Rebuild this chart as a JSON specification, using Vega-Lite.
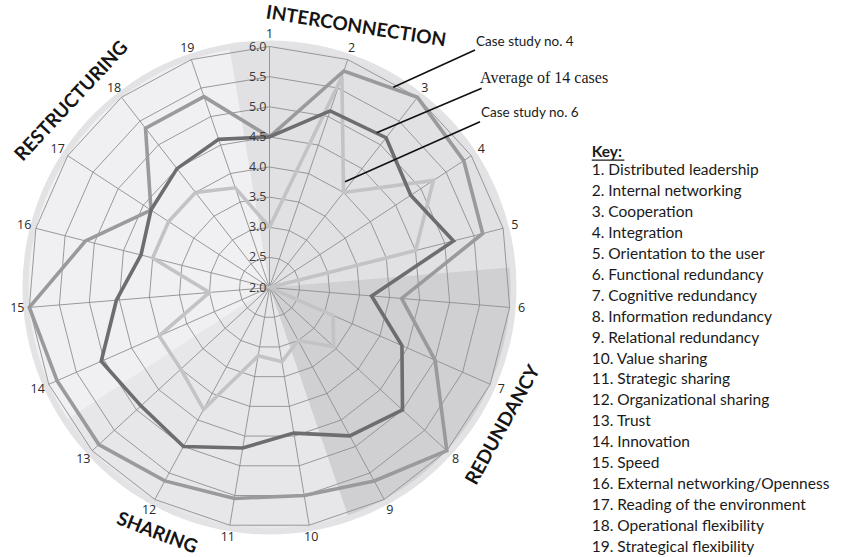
{
  "$schema": "https://vega.github.io/schema/vega-lite/v6.json",
  "width": 841,
  "height": 557,
  "autosize": {"type": "none"},
  "padding": 0,
  "background": "white",
  "config": {"view": {"stroke": null}, "font": "Lato"},
  "datasets": {
    "series": [
      {"series": "Case study no. 6", "k": 1, "v": 3.0},
      {"series": "Case study no. 6", "k": 2, "v": 5.7},
      {"series": "Case study no. 6", "k": 3, "v": 4.0},
      {"series": "Case study no. 6", "k": 4, "v": 5.25},
      {"series": "Case study no. 6", "k": 5, "v": 4.5},
      {"series": "Case study no. 6", "k": 6, "v": 2.0},
      {"series": "Case study no. 6", "k": 7, "v": 3.15},
      {"series": "Case study no. 6", "k": 8, "v": 3.45},
      {"series": "Case study no. 6", "k": 9, "v": 3.0},
      {"series": "Case study no. 6", "k": 10, "v": 3.25},
      {"series": "Case study no. 6", "k": 11, "v": 3.15},
      {"series": "Case study no. 6", "k": 12, "v": 4.3},
      {"series": "Case study no. 6", "k": 13, "v": 4.0},
      {"series": "Case study no. 6", "k": 14, "v": 4.0},
      {"series": "Case study no. 6", "k": 15, "v": 3.0},
      {"series": "Case study no. 6", "k": 16, "v": 4.0},
      {"series": "Case study no. 6", "k": 17, "v": 4.0},
      {"series": "Case study no. 6", "k": 18, "v": 4.0},
      {"series": "Case study no. 6", "k": 19, "v": 3.75},
      {"series": "Case study no. 4", "k": 1, "v": 4.5},
      {"series": "Case study no. 4", "k": 2, "v": 5.8},
      {"series": "Case study no. 4", "k": 3, "v": 6.0},
      {"series": "Case study no. 4", "k": 4, "v": 5.85},
      {"series": "Case study no. 4", "k": 5, "v": 5.65},
      {"series": "Case study no. 4", "k": 6, "v": 4.2},
      {"series": "Case study no. 4", "k": 7, "v": 5.0},
      {"series": "Case study no. 4", "k": 8, "v": 6.0},
      {"series": "Case study no. 4", "k": 9, "v": 5.65},
      {"series": "Case study no. 4", "k": 10, "v": 5.5},
      {"series": "Case study no. 4", "k": 11, "v": 5.55},
      {"series": "Case study no. 4", "k": 12, "v": 5.65},
      {"series": "Case study no. 4", "k": 13, "v": 5.85},
      {"series": "Case study no. 4", "k": 14, "v": 5.85},
      {"series": "Case study no. 4", "k": 15, "v": 6.0},
      {"series": "Case study no. 4", "k": 16, "v": 5.15},
      {"series": "Case study no. 4", "k": 17, "v": 4.35},
      {"series": "Case study no. 4", "k": 18, "v": 5.35},
      {"series": "Case study no. 4", "k": 19, "v": 5.35},
      {"series": "Average of 14 cases", "k": 1, "v": 4.5},
      {"series": "Average of 14 cases", "k": 2, "v": 5.1},
      {"series": "Average of 14 cases", "k": 3, "v": 5.15},
      {"series": "Average of 14 cases", "k": 4, "v": 4.8},
      {"series": "Average of 14 cases", "k": 5, "v": 5.15},
      {"series": "Average of 14 cases", "k": 6, "v": 3.7},
      {"series": "Average of 14 cases", "k": 7, "v": 4.4},
      {"series": "Average of 14 cases", "k": 8, "v": 5.0},
      {"series": "Average of 14 cases", "k": 9, "v": 4.8},
      {"series": "Average of 14 cases", "k": 10, "v": 4.45},
      {"series": "Average of 14 cases", "k": 11, "v": 4.7},
      {"series": "Average of 14 cases", "k": 12, "v": 5.0},
      {"series": "Average of 14 cases", "k": 13, "v": 4.9},
      {"series": "Average of 14 cases", "k": 14, "v": 5.05},
      {"series": "Average of 14 cases", "k": 15, "v": 4.55},
      {"series": "Average of 14 cases", "k": 16, "v": 4.2},
      {"series": "Average of 14 cases", "k": 17, "v": 4.35},
      {"series": "Average of 14 cases", "k": 18, "v": 4.5},
      {"series": "Average of 14 cases", "k": 19, "v": 4.6}
    ],
    "axes": [
      {"k": 1, "label": "1. Distributed leadership"},
      {"k": 2, "label": "2. Internal networking"},
      {"k": 3, "label": "3. Cooperation"},
      {"k": 4, "label": "4. Integration"},
      {"k": 5, "label": "5. Orientation to the user"},
      {"k": 6, "label": "6. Functional redundancy"},
      {"k": 7, "label": "7. Cognitive redundancy"},
      {"k": 8, "label": "8. Information redundancy"},
      {"k": 9, "label": "9. Relational redundancy"},
      {"k": 10, "label": "10. Value sharing"},
      {"k": 11, "label": "11. Strategic sharing"},
      {"k": 12, "label": "12. Organizational sharing"},
      {"k": 13, "label": "13. Trust"},
      {"k": 14, "label": "14. Innovation"},
      {"k": 15, "label": "15. Speed"},
      {"k": 16, "label": "16. External networking/Openness"},
      {"k": 17, "label": "17. Reading of the environment"},
      {"k": 18, "label": "18. Operational flexibility"},
      {"k": 19, "label": "19. Strategical flexibility"}
    ],
    "levels": [
      {"level": 2.0, "ks": [1,2,3,4,5,6,7,8,9,10,11,12,13,14,15,16,17,18,19]},
      {"level": 2.5, "ks": [1,2,3,4,5,6,7,8,9,10,11,12,13,14,15,16,17,18,19]},
      {"level": 3.0, "ks": [1,2,3,4,5,6,7,8,9,10,11,12,13,14,15,16,17,18,19]},
      {"level": 3.5, "ks": [1,2,3,4,5,6,7,8,9,10,11,12,13,14,15,16,17,18,19]},
      {"level": 4.0, "ks": [1,2,3,4,5,6,7,8,9,10,11,12,13,14,15,16,17,18,19]},
      {"level": 4.5, "ks": [1,2,3,4,5,6,7,8,9,10,11,12,13,14,15,16,17,18,19]},
      {"level": 5.0, "ks": [1,2,3,4,5,6,7,8,9,10,11,12,13,14,15,16,17,18,19]},
      {"level": 5.5, "ks": [1,2,3,4,5,6,7,8,9,10,11,12,13,14,15,16,17,18,19]},
      {"level": 6.0, "ks": [1,2,3,4,5,6,7,8,9,10,11,12,13,14,15,16,17,18,19]}
    ],
    "sectors": [
      {"sector": "INTERCONNECTION", "from": 0.5, "to": 5.5},
      {"sector": "REDUNDANCY", "from": 5.5, "to": 9.5},
      {"sector": "SHARING", "from": 9.5, "to": 13.5},
      {"sector": "RESTRUCTURING", "from": 13.5, "to": 19.5}
    ]
  },
  "layer": [
    {
      "layer": [
        {
          "data": {"values": [{"from": 1, "to": 20}]},
          "mark": {"type": "arc", "outerRadius": 247, "innerRadius": 0, "fill": "#e3e3e5"},
          "encoding": {
            "theta": {"field": "from", "type": "quantitative", "stack": null, "scale": {"domain": [1, 20], "range": [0, 6.283185307179586]}},
            "theta2": {"field": "to"},
            "x": {"datum": 0, "type": "quantitative", "scale": {"domain": [-4.473, 9.485], "nice": false, "zero": false}, "axis": null},
            "y": {"datum": 0, "type": "quantitative", "scale": {"domain": [-4.473, 4.772], "nice": false, "zero": false}, "axis": null}
          }
        },
        {
          "data": {"name": "sectors"},
          "mark": {"type": "arc", "outerRadius": 241, "innerRadius": 0},
          "encoding": {
            "theta": {"field": "from", "type": "quantitative", "stack": null, "scale": {"domain": [1, 20], "range": [0, 6.283185307179586]}},
            "theta2": {"field": "to"},
            "fill": {"field": "sector", "type": "nominal", "legend": null,
              "scale": {"domain": ["INTERCONNECTION", "REDUNDANCY", "SHARING", "RESTRUCTURING"], "range": ["#e1e1e3", "#d0d0d2", "#e7e7e9", "#f0f0f2"]}},
            "x": {"datum": 0, "type": "quantitative", "scale": {"domain": [-4.473, 9.485], "nice": false, "zero": false}, "axis": null},
            "y": {"datum": 0, "type": "quantitative", "scale": {"domain": [-4.473, 4.772], "nice": false, "zero": false}, "axis": null}
          }
        },
        {
          "data": {"name": "levels"},
          "transform": [
            {"filter": "datum.level > 2"},
            {"flatten": ["ks"], "as": ["k"]},
            {"calculate": "(datum.level-2)*sin(2*PI*(datum.k-1)/19)", "as": "gx"},
            {"calculate": "(datum.level-2)*cos(2*PI*(datum.k-1)/19)", "as": "gy"}
          ],
          "mark": {"type": "line", "interpolate": "linear-closed", "stroke": "#8e8e8e", "strokeWidth": 0.9},
          "encoding": {
            "x": {"field": "gx", "type": "quantitative", "scale": {"domain": [-4.473, 9.485], "nice": false, "zero": false}, "axis": null},
            "y": {"field": "gy", "type": "quantitative", "scale": {"domain": [-4.473, 4.772], "nice": false, "zero": false}, "axis": null},
            "detail": {"field": "level", "type": "nominal"},
            "order": {"field": "k", "type": "quantitative"}
          }
        },
        {
          "data": {"name": "axes"},
          "transform": [
            {"calculate": "4*sin(2*PI*(datum.k-1)/19)", "as": "sx"},
            {"calculate": "4*cos(2*PI*(datum.k-1)/19)", "as": "sy"}
          ],
          "mark": {"type": "rule", "stroke": "#8e8e8e", "strokeWidth": 0.9},
          "encoding": {
            "x": {"field": "sx", "type": "quantitative", "scale": {"domain": [-4.473, 9.485], "nice": false, "zero": false}, "axis": null},
            "x2": {"datum": 0},
            "y": {"field": "sy", "type": "quantitative", "scale": {"domain": [-4.473, 4.772], "nice": false, "zero": false}, "axis": null},
            "y2": {"datum": 0}
          }
        },
        {
          "data": {"name": "series"},
          "transform": [
            {"calculate": "(datum.v-2)*sin(2*PI*(datum.k-1)/19)", "as": "px"},
            {"calculate": "(datum.v-2)*cos(2*PI*(datum.k-1)/19)", "as": "py"}
          ],
          "mark": {"type": "line", "interpolate": "linear-closed", "strokeWidth": 3.6, "strokeJoin": "miter"},
          "encoding": {
            "x": {"field": "px", "type": "quantitative", "scale": {"domain": [-4.473, 9.485], "nice": false, "zero": false}, "axis": null},
            "y": {"field": "py", "type": "quantitative", "scale": {"domain": [-4.473, 4.772], "nice": false, "zero": false}, "axis": null},
            "stroke": {"field": "series", "type": "nominal", "legend": null,
              "scale": {"domain": ["Case study no. 6", "Case study no. 4", "Average of 14 cases"], "range": ["#c3c3c5", "#9a9a9c", "#6d6d6f"]}},
            "order": {"field": "k", "type": "quantitative"}
          }
        },
        {
          "data": {"name": "levels"},
          "transform": [{"calculate": "datum.level-2", "as": "r"}],
          "mark": {"type": "text", "align": "right", "baseline": "middle", "dx": -3, "fontSize": 12.5, "color": "#3a3a3a", "font": "Open Sans"},
          "encoding": {
            "x": {"datum": 0, "type": "quantitative", "scale": {"domain": [-4.473, 9.485], "nice": false, "zero": false}, "axis": null},
            "y": {"field": "r", "type": "quantitative", "scale": {"domain": [-4.473, 4.772], "nice": false, "zero": false}, "axis": null},
            "text": {"field": "level", "type": "quantitative", "format": ".1f"}
          }
        },
        {
          "data": {"name": "axes"},
          "transform": [
            {"calculate": "4.2*sin(2*PI*(datum.k-1)/19)", "as": "lx"},
            {"calculate": "4.2*cos(2*PI*(datum.k-1)/19)", "as": "ly"}
          ],
          "mark": {"type": "text", "align": "center", "baseline": "middle", "fontSize": 12.5, "color": "#2a2a2a", "font": "Open Sans"},
          "encoding": {
            "x": {"field": "lx", "type": "quantitative", "scale": {"domain": [-4.473, 9.485], "nice": false, "zero": false}, "axis": null},
            "y": {"field": "ly", "type": "quantitative", "scale": {"domain": [-4.473, 4.772], "nice": false, "zero": false}, "axis": null},
            "text": {"field": "k", "type": "nominal"}
          }
        },
        {
          "data": {"values": [{"title": "INTERCONNECTION"}]},
          "mark": {"type": "text", "align": "center", "baseline": "middle", "fontSize": 19, "fontWeight": "bold", "color": "#151515", "angle": 9},
          "encoding": {
            "x": {"datum": 1.436, "type": "quantitative", "scale": {"domain": [-4.473, 9.485], "nice": false, "zero": false}, "axis": null},
            "y": {"datum": 4.332, "type": "quantitative", "scale": {"domain": [-4.473, 4.772], "nice": false, "zero": false}, "axis": null},
            "text": {"field": "title", "type": "nominal"}
          }
        },
        {
          "data": {"values": [{"title": "REDUNDANCY"}]},
          "mark": {"type": "text", "align": "center", "baseline": "middle", "fontSize": 19, "fontWeight": "bold", "color": "#151515", "angle": -61},
          "encoding": {
            "x": {"datum": 3.876, "type": "quantitative", "scale": {"domain": [-4.473, 9.485], "nice": false, "zero": false}, "axis": null},
            "y": {"datum": -2.282, "type": "quantitative", "scale": {"domain": [-4.473, 4.772], "nice": false, "zero": false}, "axis": null},
            "text": {"field": "title", "type": "nominal"}
          }
        },
        {
          "data": {"values": [{"title": "SHARING"}]},
          "mark": {"type": "text", "align": "center", "baseline": "middle", "fontSize": 19, "fontWeight": "bold", "color": "#151515", "angle": 21},
          "encoding": {
            "x": {"datum": -1.867, "type": "quantitative", "scale": {"domain": [-4.473, 9.485], "nice": false, "zero": false}, "axis": null},
            "y": {"datum": -4.075, "type": "quantitative", "scale": {"domain": [-4.473, 4.772], "nice": false, "zero": false}, "axis": null},
            "text": {"field": "title", "type": "nominal"}
          }
        },
        {
          "data": {"values": [{"title": "RESTRUCTURING"}]},
          "mark": {"type": "text", "align": "center", "baseline": "middle", "fontSize": 19, "fontWeight": "bold", "color": "#151515", "angle": -47},
          "encoding": {
            "x": {"datum": -3.286, "type": "quantitative", "scale": {"domain": [-4.473, 9.485], "nice": false, "zero": false}, "axis": null},
            "y": {"datum": 3.095, "type": "quantitative", "scale": {"domain": [-4.473, 4.772], "nice": false, "zero": false}, "axis": null},
            "text": {"field": "title", "type": "nominal"}
          }
        },
        {
          "data": {"values": [{"note": "Case study no. 4"}]},
          "mark": {"type": "rule", "stroke": "#111111", "strokeWidth": 1.6},
          "encoding": {
            "x": {"datum": 2.054, "type": "quantitative", "scale": {"domain": [-4.473, 9.485], "nice": false, "zero": false}, "axis": null},
            "y": {"datum": 3.323, "type": "quantitative", "scale": {"domain": [-4.473, 4.772], "nice": false, "zero": false}, "axis": null},
            "x2": {"datum": 3.411},
            "y2": {"datum": 3.942}
          }
        },
        {
          "data": {"values": [{"note": "Average of 14 cases"}]},
          "mark": {"type": "rule", "stroke": "#111111", "strokeWidth": 1.6},
          "encoding": {
            "x": {"datum": 1.779, "type": "quantitative", "scale": {"domain": [-4.473, 9.485], "nice": false, "zero": false}, "axis": null},
            "y": {"datum": 2.569, "type": "quantitative", "scale": {"domain": [-4.473, 4.772], "nice": false, "zero": false}, "axis": null},
            "x2": {"datum": 3.522},
            "y2": {"datum": 3.306}
          }
        },
        {
          "data": {"values": [{"note": "Case study no. 6"}]},
          "mark": {"type": "rule", "stroke": "#111111", "strokeWidth": 1.6},
          "encoding": {
            "x": {"datum": 1.253, "type": "quantitative", "scale": {"domain": [-4.473, 9.485], "nice": false, "zero": false}, "axis": null},
            "y": {"datum": 1.756, "type": "quantitative", "scale": {"domain": [-4.473, 4.772], "nice": false, "zero": false}, "axis": null},
            "x2": {"datum": 3.494},
            "y2": {"datum": 2.752}
          }
        },
        {
          "data": {"values": [{"t": "Case study no. 4"}]},
          "mark": {"type": "text", "align": "left", "baseline": "middle", "fontSize": 13.5, "color": "#1a1a1a"},
          "encoding": {
            "x": {"datum": 3.427, "type": "quantitative", "scale": {"domain": [-4.473, 9.485], "nice": false, "zero": false}, "axis": null},
            "y": {"datum": 4.08, "type": "quantitative", "scale": {"domain": [-4.473, 4.772], "nice": false, "zero": false}, "axis": null},
            "text": {"field": "t", "type": "nominal"}
          }
        },
        {
          "data": {"values": [{"t": "Average of 14 cases"}]},
          "mark": {"type": "text", "align": "left", "baseline": "middle", "fontSize": 16, "color": "#1a1a1a", "font": "Liberation Serif"},
          "encoding": {
            "x": {"datum": 3.494, "type": "quantitative", "scale": {"domain": [-4.473, 9.485], "nice": false, "zero": false}, "axis": null},
            "y": {"datum": 3.477, "type": "quantitative", "scale": {"domain": [-4.473, 4.772], "nice": false, "zero": false}, "axis": null},
            "text": {"field": "t", "type": "nominal"}
          }
        },
        {
          "data": {"values": [{"t": "Case study no. 6"}]},
          "mark": {"type": "text", "align": "left", "baseline": "middle", "fontSize": 13.5, "color": "#1a1a1a"},
          "encoding": {
            "x": {"datum": 3.51, "type": "quantitative", "scale": {"domain": [-4.473, 9.485], "nice": false, "zero": false}, "axis": null},
            "y": {"datum": 2.896, "type": "quantitative", "scale": {"domain": [-4.473, 4.772], "nice": false, "zero": false}, "axis": null},
            "text": {"field": "t", "type": "nominal"}
          }
        }
      ]
    },
    {
      "layer": [
        {
          "data": {"name": "axes"},
          "mark": {"type": "text", "align": "left", "baseline": "middle", "fontSize": 15.5, "color": "#1a1a1a"},
          "encoding": {
            "x": {"datum": 5.348, "type": "quantitative", "scale": {"domain": [-4.473, 9.485], "nice": false, "zero": false}, "axis": null},
            "y": {"field": "k", "type": "quantitative", "scale": {"domain": [1, 19], "range": [170, 547], "nice": false, "zero": false}, "axis": null},
            "text": {"field": "label", "type": "nominal"}
          }
        },
        {
          "data": {"values": [{"t": "Key:"}]},
          "mark": {"type": "text", "align": "left", "baseline": "middle", "fontSize": 15.5, "fontWeight": "bold", "color": "#1a1a1a", "dy": 3},
          "encoding": {
            "x": {"datum": 5.348, "type": "quantitative", "scale": {"domain": [-4.473, 9.485], "nice": false, "zero": false}, "axis": null},
            "y": {"datum": 0, "type": "quantitative", "scale": {"domain": [1, 19], "range": [170, 547], "nice": false, "zero": false}, "axis": null},
            "text": {"field": "t", "type": "nominal"}
          }
        },
        {
          "data": {"values": [{"t": "Key:"}]},
          "mark": {"type": "rule", "stroke": "#1a1a1a", "strokeWidth": 1.2, "yOffset": 11},
          "encoding": {
            "x": {"datum": 5.348, "type": "quantitative", "scale": {"domain": [-4.473, 9.485], "nice": false, "zero": false}, "axis": null},
            "x2": {"datum": 5.89},
            "y": {"datum": 0, "type": "quantitative", "scale": {"domain": [1, 19], "range": [170, 547], "nice": false, "zero": false}, "axis": null}
          }
        }
      ]
    }
  ],
  "resolve": {"scale": {"y": "independent"}}
}
